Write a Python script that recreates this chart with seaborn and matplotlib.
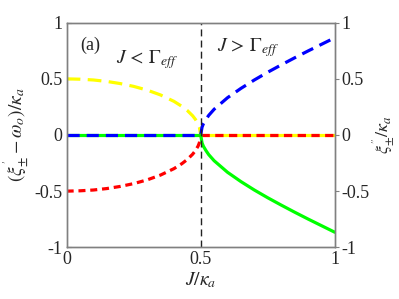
import matplotlib
matplotlib.use("Agg")
import matplotlib.pyplot as plt
import seaborn as sns
import pandas as pd

sns.set_style("white")
plt.rcParams['font.family'] = 'serif'
plt.rcParams['font.serif'] = ['Liberation Serif', 'Times New Roman', 'DejaVu Serif']
plt.rcParams['mathtext.fontset'] = 'stix'

x_left = [0.0, 0.05, 0.1, 0.15, 0.2, 0.25, 0.3, 0.35, 0.4, 0.43, 0.45, 0.47, 0.48, 0.49, 0.495, 0.5]
yellow = [0.50, 0.497, 0.49, 0.477, 0.458, 0.433, 0.40, 0.357, 0.30, 0.255, 0.218, 0.171, 0.14, 0.10, 0.07, 0.0]
red = [-0.50, -0.497, -0.49, -0.477, -0.458, -0.433, -0.40, -0.357, -0.30, -0.255, -0.218, -0.171, -0.14, -0.10, -0.07, 0.0]
x_right = [0.5, 0.505, 0.51, 0.52, 0.53, 0.55, 0.6, 0.65, 0.7, 0.75, 0.8, 0.85, 0.9, 0.95, 1.0]
blue = [0.0, 0.07, 0.10, 0.14, 0.175, 0.229, 0.332, 0.415, 0.49, 0.559, 0.624, 0.687, 0.748, 0.807, 0.866]
green = [0.0, -0.07, -0.10, -0.14, -0.175, -0.229, -0.332, -0.415, -0.49, -0.559, -0.624, -0.687, -0.748, -0.807, -0.866]
zero_left = [0.0] * len(x_left)
zero_right = [0.0] * len(x_right)

fig = plt.figure(figsize=(3.99, 2.99), dpi=100)
ax = fig.add_axes([0.167, 0.173, 0.672, 0.751])

lw = 2.3
# zero lines
sns.lineplot(x=x_left, y=zero_left, ax=ax, color='#00ff00', lw=lw)
sns.lineplot(x=x_left, y=zero_left, ax=ax, color='#0000ff', lw=lw)
ax.lines[-1].set_dashes([3.8, 2.2])
sns.lineplot(x=x_right, y=zero_right, ax=ax, color='#ffff00', lw=lw)
sns.lineplot(x=x_right, y=zero_right, ax=ax, color='#ff0000', lw=lw)
ax.lines[-1].set_dashes([2.6, 1.7])

sns.lineplot(x=x_left, y=yellow, ax=ax, color='#ffff00', lw=lw, sort=False)
ax.lines[-1].set_dashes([4.3, 2.3])
sns.lineplot(x=x_right, y=blue, ax=ax, color='#0000ff', lw=lw, sort=False)
ax.lines[-1].set_dashes([3.8, 2.2])
sns.lineplot(x=x_left, y=red, ax=ax, color='#ff0000', lw=lw, sort=False)
ax.lines[-1].set_dashes([2.2, 1.5])
sns.lineplot(x=x_right, y=green, ax=ax, color='#00ff00', lw=lw, sort=False)

ax.axvline(0.5, color='#222222', lw=1.0, ls=(0, (5, 3)))

ax.set_xlim(0, 1)
ax.set_ylim(-1, 1)
ax.set_xticks([0, 0.5, 1])
ax.set_xticklabels(['0', '0.5', '1'])
ax.set_yticks([-1, -0.5, 0, 0.5, 1])
ax.set_yticklabels(['-1', '-0.5', '0', '0.5', '1'])
for s in ax.spines.values():
    s.set_color('#808080')
    s.set_linewidth(1.0)
ax.tick_params(axis='both', labelsize=13, direction='in', length=3, color='#808080', pad=3)
ax.set_xlabel(r'$J/\kappa_a$', fontsize=14, labelpad=1)
ax.set_ylabel(r"$(\xi_{\pm}^{'}-\omega_o)/\kappa_a$", fontsize=14, labelpad=2)

ax2 = ax.twinx()
ax2.set_ylim(-1, 1)
ax2.set_yticks([-1, -0.5, 0, 0.5, 1])
ax2.set_yticklabels(['-1', '-0.5', '0', '0.5', '1'])
ax2.tick_params(axis='y', labelsize=13, direction='out', length=3, color='#808080', pad=2)
for s in ax2.spines.values():
    s.set_color('#808080')
    s.set_linewidth(1.0)
ax2.set_ylabel(r"$\xi_{\pm}^{''}/\kappa_a$", fontsize=13, labelpad=1)

ax.text(0.05, 0.80, '(a)', fontsize=13, va='center', ha='left')
ax.text(0.185, 0.67, r'$J\,<\,\Gamma_{eff}$', fontsize=14, va='center', ha='left')
ax.text(0.56, 0.78, r'$J\,>\,\Gamma_{eff}$', fontsize=14, va='center', ha='left')

fig.savefig('out.png', dpi=100)
